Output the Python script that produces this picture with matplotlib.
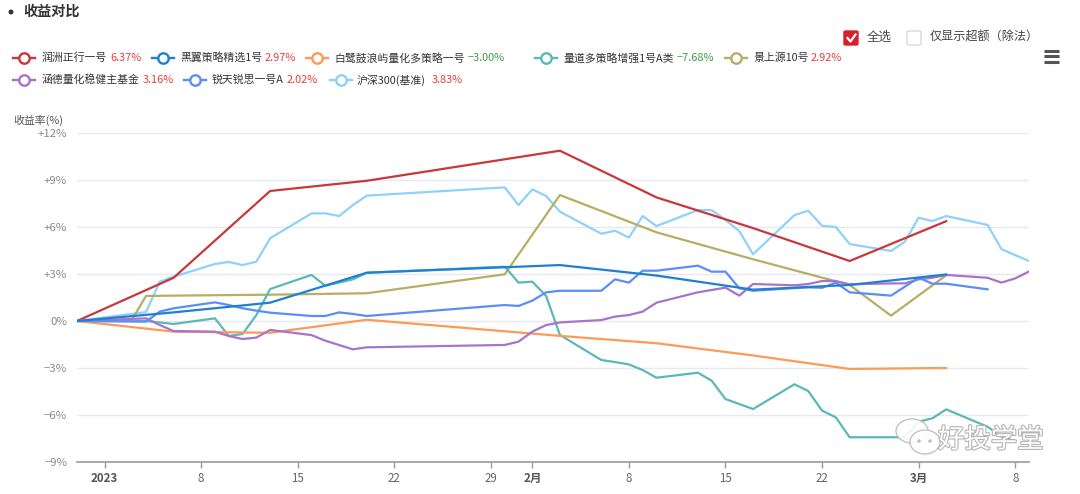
import numpy as np
import pandas as pd
import matplotlib
matplotlib.use("Agg")
import matplotlib.pyplot as plt
import matplotlib.dates as mdates
from matplotlib.lines import Line2D
from matplotlib.patches import FancyBboxPatch, Ellipse
import matplotlib.patheffects as pe

plt.rcParams['font.family'] = ['Noto Sans CJK SC', 'DejaVu Sans']
plt.rcParams['axes.unicode_minus'] = True

# -----------------------------
# 数据（从图上读出的累计收益率, %）
# -----------------------------
weekly_dates = ['2022-12-30', '2023-01-06', '2023-01-13', '2023-01-20', '2023-02-03',
                '2023-02-10', '2023-02-17', '2023-02-24', '2023-03-03']
runzhou_vals = [0, 2.76, 8.30, 8.95, 10.87, 7.89, 5.93, 3.83, 6.37]
heiyi_vals = [0, 0.55, 1.17, 3.08, 3.57, 2.90, 2.00, 2.30, 2.97]
bailu_vals = [0, -0.68, -0.75, 0.08, -0.95, -1.42, -2.20, -3.06, -3.00]

jsy_dates = ['2022-12-30', '2023-01-03', '2023-01-04', '2023-01-06', '2023-01-13', '2023-01-20',
             '2023-01-30', '2023-02-03', '2023-02-10', '2023-02-17', '2023-02-24', '2023-02-27',
             '2023-03-03']
jsy_vals = [0, 0.10, 1.60, 1.62, 1.68, 1.77, 2.98, 8.04, 5.66, 3.94, 2.30, 0.34, 2.92]

liangdao_dates = ['2022-12-30', '2023-01-04', '2023-01-06', '2023-01-09', '2023-01-10', '2023-01-11',
                  '2023-01-12', '2023-01-13', '2023-01-16', '2023-01-17', '2023-01-19', '2023-01-20',
                  '2023-01-30', '2023-01-31', '2023-02-01', '2023-02-02', '2023-02-03', '2023-02-06',
                  '2023-02-07', '2023-02-08', '2023-02-09', '2023-02-10', '2023-02-13', '2023-02-14',
                  '2023-02-15', '2023-02-17', '2023-02-20', '2023-02-21', '2023-02-22', '2023-02-23',
                  '2023-02-24', '2023-02-28', '2023-03-01', '2023-03-02', '2023-03-03', '2023-03-06',
                  '2023-03-07', '2023-03-08']
liangdao_vals = [0, 0.0, -0.19, 0.17, -0.96, -0.83, 0.38, 2.04, 2.94, 2.25, 2.66, 3.08,
                 3.47, 2.45, 2.51, 1.60, -0.89, -2.49, -2.62, -2.77, -3.13, -3.62, -3.30, -3.81,
                 -4.98, -5.62, -4.04, -4.47, -5.72, -6.15, -7.42, -7.42, -6.43, -6.21, -5.64, -6.75,
                 -7.38, -7.68]

hande_dates = ['2022-12-30', '2023-01-04', '2023-01-05', '2023-01-06', '2023-01-09', '2023-01-10',
               '2023-01-11', '2023-01-12', '2023-01-13', '2023-01-16', '2023-01-17', '2023-01-19',
               '2023-01-20', '2023-01-30', '2023-01-31', '2023-02-01', '2023-02-02', '2023-02-03',
               '2023-02-06', '2023-02-07', '2023-02-08', '2023-02-09', '2023-02-10', '2023-02-13',
               '2023-02-14', '2023-02-15', '2023-02-16', '2023-02-17', '2023-02-20', '2023-02-21',
               '2023-02-22', '2023-02-23', '2023-02-24', '2023-02-27', '2023-02-28', '2023-03-01',
               '2023-03-02', '2023-03-03', '2023-03-06', '2023-03-07', '2023-03-08', '2023-03-09']
hande_vals = [0, 0.17, -0.26, -0.64, -0.68, -0.96, -1.15, -1.06, -0.57, -0.90, -1.26, -1.81,
              -1.68, -1.53, -1.32, -0.68, -0.26, -0.09, 0.06, 0.28, 0.38, 0.60, 1.17, 1.83,
              1.98, 2.13, 1.62, 2.36, 2.28, 2.36, 2.55, 2.55, 2.34, 2.40, 2.40, 2.66,
              2.76, 2.94, 2.76, 2.45, 2.72, 3.16]

ruitian_dates = ['2022-12-30', '2023-01-04', '2023-01-05', '2023-01-06', '2023-01-09', '2023-01-10',
                 '2023-01-11', '2023-01-12', '2023-01-13', '2023-01-16', '2023-01-17', '2023-01-18',
                 '2023-01-19', '2023-01-20', '2023-01-30', '2023-01-31', '2023-02-01', '2023-02-02',
                 '2023-02-03', '2023-02-06', '2023-02-07', '2023-02-08', '2023-02-09', '2023-02-10',
                 '2023-02-13', '2023-02-14', '2023-02-15', '2023-02-16', '2023-02-17', '2023-02-20',
                 '2023-02-21', '2023-02-22', '2023-02-23', '2023-02-24', '2023-02-27', '2023-02-28',
                 '2023-03-01', '2023-03-02', '2023-03-03', '2023-03-06']
ruitian_vals = [0, -0.04, 0.60, 0.81, 1.19, 1.02, 0.81, 0.66, 0.53, 0.32, 0.32, 0.55,
                0.45, 0.32, 1.02, 0.96, 1.30, 1.83, 1.93, 1.93, 2.66, 2.45, 3.21, 3.21,
                3.53, 3.15, 3.15, 2.09, 1.93, 2.10, 2.15, 2.12, 2.45, 1.83, 1.62, 2.19,
                2.76, 2.38, 2.38, 2.02]

hs300_dates = ['2022-12-30', '2023-01-04', '2023-01-05', '2023-01-06', '2023-01-09', '2023-01-10',
               '2023-01-11', '2023-01-12', '2023-01-13', '2023-01-16', '2023-01-17', '2023-01-18',
               '2023-01-19', '2023-01-20', '2023-01-30', '2023-01-31', '2023-02-01', '2023-02-02',
               '2023-02-03', '2023-02-06', '2023-02-07', '2023-02-08', '2023-02-09', '2023-02-10',
               '2023-02-13', '2023-02-14', '2023-02-15', '2023-02-16', '2023-02-17', '2023-02-20',
               '2023-02-21', '2023-02-22', '2023-02-23', '2023-02-24', '2023-02-27', '2023-02-28',
               '2023-03-01', '2023-03-02', '2023-03-03', '2023-03-06', '2023-03-07', '2023-03-08',
               '2023-03-09']
hs300_vals = [0, 0.57, 2.51, 2.83, 3.64, 3.77, 3.57, 3.79, 5.28, 6.87, 6.87, 6.70,
              7.40, 8.00, 8.53, 7.40, 8.40, 7.98, 6.98, 5.57, 5.76, 5.32, 6.70, 6.06,
              7.08, 7.08, 6.45, 5.74, 4.26, 6.76, 7.04, 6.08, 6.00, 4.91, 4.47, 5.06,
              6.59, 6.38, 6.70, 6.13, 4.59, 4.20, 3.83]

names = ['润洲正行一号', '黑翼策略精选1号', '白鹭鼓浪屿量化多策略一号', '量道多策略增强1号A类',
         '景上源10号', '涵德量化稳健主基金', '锐天锐思一号A', '沪深300(基准)']
final_pct = ['6.37%', '2.97%', '−3.00%', '−7.68%', '2.92%', '3.16%', '2.02%', '3.83%']
colors = ['#c8373a', '#1f80d2', '#fd9a55', '#5ab9b8', '#b8ad62', '#a874c8', '#5b8ef5', '#8fd1fb']

series = [(weekly_dates, runzhou_vals), (weekly_dates, heiyi_vals), (weekly_dates, bailu_vals),
          (liangdao_dates, liangdao_vals), (jsy_dates, jsy_vals), (hande_dates, hande_vals),
          (ruitian_dates, ruitian_vals), (hs300_dates, hs300_vals)]

ytick_vals = [-9, -6, -3, 0, 3, 6, 9, 12]
ytick_labels = ['−9%', '−6%', '−3%', '0%', '+3%', '+6%', '+9%', '+12%']
xtick_dates = ['2023-01-01', '2023-01-08', '2023-01-15', '2023-01-22', '2023-01-29', '2023-02-01',
               '2023-02-08', '2023-02-15', '2023-02-22', '2023-03-01', '2023-03-08']
xtick_labels = ['2023', '8', '15', '22', '29', '2月', '8', '15', '22', '3月', '8']

# -----------------------------
# 画布
# -----------------------------
W, H = 1080, 494
fig = plt.figure(figsize=(W / 100, H / 100), dpi=100)
fig.patch.set_facecolor('white')

def fx(x):
    return x / W

def fy(y):
    return 1 - y / H

def dot(x, y, d, color, z=2):
    # 像素直径 d 的圆点（图坐标下用椭圆保持圆形）
    fig.add_artist(Ellipse((fx(x), fy(y)), d / W, d / H, transform=fig.transFigure,
                           facecolor=color, edgecolor='none', zorder=z))

ax = fig.add_axes([fx(77), fy(462), fx(1029) - fx(77), fy(133) - fy(462)])

# 绘制顺序：后面的在上层
order = [7, 0, 4, 3, 2, 5, 6, 1]
for i in order:
    d, v = series[i]
    ax.plot(pd.to_datetime(d), v, color=colors[i], lw=1.6, solid_joinstyle='round', zorder=3 + order.index(i))

ax.set_xlim(pd.Timestamp('2022-12-30'), pd.Timestamp('2023-03-09'))
ax.set_ylim(-9, 12)
ax.set_yticks(ytick_vals)
ax.set_yticklabels(ytick_labels)
ax.set_xticks(pd.to_datetime(xtick_dates))
ax.set_xticklabels(xtick_labels)
for lab in ax.get_xticklabels():
    if lab.get_text() in ('2023', '2月', '3月'):
        lab.set_fontweight('bold')
        lab.set_color('#555555')
    else:
        lab.set_color('#666666')

ax.grid(axis='y', color='#e6e9f2', lw=1)
ax.set_axisbelow(True)
for s in ['top', 'right', 'left']:
    ax.spines[s].set_visible(False)
ax.spines['bottom'].set_color('#9a9a9a')
ax.spines['bottom'].set_linewidth(1.2)
ax.tick_params(axis='y', length=0, pad=7, labelsize=8.2, labelcolor='#8a8a8a')
ax.tick_params(axis='x', length=4, width=1, color='#9a9a9a', pad=3, labelsize=8.3)

# y 轴标题
fig.text(fx(13), fy(120), '收益率(%)', fontsize=7.8, color='#555555', va='center', ha='left')

# 标题
dot(11, 12, 5, '#333333')
fig.text(fx(23), fy(12), '收益对比', fontsize=10.2, fontweight='bold', color='#333333', va='center', ha='left')

# -----------------------------
# 图例（手工排版）
# -----------------------------
leg_pos = [  # (marker start x, row y, name x, pct x)
    (13, 58, 42, 110), (152, 58, 180, 265), (306, 58, 334, 468), (535, 58, 563, 677),
    (725, 58, 753, 811), (13, 80, 42, 143), (184, 80, 212, 287), (330, 80, 357, 432),
]
for i, (mx, my, nx, px_) in enumerate(leg_pos):
    fig.add_artist(Line2D([fx(mx), fx(mx + 22)], [fy(my), fy(my)], transform=fig.transFigure,
                          color=colors[i], lw=1.7))
    fig.add_artist(Line2D([fx(mx + 11)], [fy(my)], transform=fig.transFigure, marker='o',
                          markersize=7.5, markerfacecolor='white', markeredgecolor=colors[i],
                          markeredgewidth=1.7, lw=0))
    fig.text(fx(nx), fy(my), names[i], fontsize=7.8, color='#333333', va='center', ha='left')
    pc = '#3c9a46' if final_pct[i].startswith('−') else '#ef3b3b'
    fig.text(fx(px_), fy(my), final_pct[i], fontsize=7.9, color=pc, va='center', ha='left')

# 复选框
fig.add_artist(FancyBboxPatch((fx(844), fy(45)), fx(14), 14 / H, boxstyle='round,pad=0,rounding_size=0.002',
                              transform=fig.transFigure, facecolor='#d7202b', edgecolor='#d7202b'))
fig.add_artist(Line2D([fx(847.5), fx(850.5), fx(855.5)], [fy(38), fy(41.5), fy(34.5)],
                      transform=fig.transFigure, color='white', lw=1.6))
fig.text(fx(867), fy(37), '全选', fontsize=9, color='#444444', va='center', ha='left')
fig.add_artist(FancyBboxPatch((fx(907), fy(45)), fx(14), 14 / H, boxstyle='round,pad=0,rounding_size=0.002',
                              transform=fig.transFigure, facecolor='white', edgecolor='#cfcfcf', lw=0.8))
fig.text(fx(930), fy(37), '仅显示超额（除法）', fontsize=8.7, color='#444444', va='center', ha='left')

# 菜单图标
for yy in (51, 56.5, 62):
    fig.add_artist(Line2D([fx(1044), fx(1059)], [fy(yy), fy(yy)], transform=fig.transFigure,
                          color='#555555', lw=2.2, solid_capstyle='butt'))

# 水印
wm = dict(transform=fig.transFigure, facecolor='white', edgecolor='#bdbdbd', lw=1.0, alpha=0.9, zorder=20)
fig.add_artist(Ellipse((fx(912), fy(431)), 32 / W, 24 / H, **wm))
fig.add_artist(Ellipse((fx(925), fy(442)), 30 / W, 24 / H, **wm))
for cx, cy in ((919, 441), (930, 441)):
    dot(cx, cy, 3.5, '#bdbdbd', z=21)
fig.text(fx(938), fy(440), '好投学堂', fontsize=19, color='white', va='center', ha='left', zorder=22,
         path_effects=[pe.withStroke(linewidth=1.6, foreground='#b5b5b5')])

fig.savefig('out.png', dpi=100)
